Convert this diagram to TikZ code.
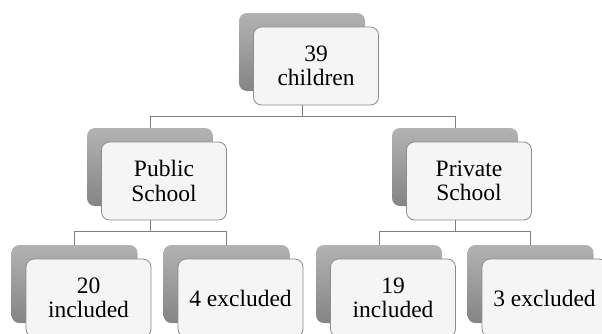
\documentclass[tikz,border=0pt]{standalone}
\usepackage{fontspec}
\setmainfont{Liberation Serif}
\usetikzlibrary{positioning}

\tikzset{
  backbox/.style={rounded corners=8pt, minimum width=126pt, minimum height=78pt,
    inner sep=0pt, top color=black!30, bottom color=black!48},
  frontbox/.style={draw=black!45, line width=0.8pt, fill=black!4, rounded corners=8pt,
    minimum width=125pt, minimum height=78pt, inner sep=0pt, align=center,
    font=\fontsize{23.5}{24.5}\selectfont, xshift=14pt, yshift=-14pt},
  link/.style={draw=black!50, line width=0.9pt}
}

\begin{document}
\begin{tikzpicture}[x=1pt,y=1pt]
  \useasboundingbox (0,0) rectangle (602,-333);

  % shadow boxes
  \node[backbox] (kidsb) at (302,-52) {};
  \node[backbox] (pubb) at (150,-167) {};
  \node[backbox] (privb) at (455,-167) {};
  \node[backbox] (pubinb) at (74.5,-284) {};
  \node[backbox] (pubexb) at (226.5,-284) {};
  \node[backbox] (privinb) at (379,-284) {};
  \node[backbox] (privexb) at (530.5,-284) {};

  % front boxes
  \node[frontbox] (kids) at (kidsb) {39\\children};
  \node[frontbox] (pub) at (pubb) {Public\\School};
  \node[frontbox] (priv) at (privb) {Private\\School};
  \node[frontbox] (pubin) at (pubinb) {20\\included};
  \node[frontbox] (pubex) at (pubexb) {4 excluded};
  \node[frontbox] (privin) at (privinb) {19\\included};
  \node[frontbox] (privex) at (privexb) {3 excluded};

  % connectors
  \draw[link] (kidsb.center |- kids.south) -- ++(0,-11) -| (pubb.north);
  \draw[link] (kidsb.center |- kids.south) -- ++(0,-11) -| (privb.north);
  \draw[link] (pubb.center |- pub.south) -- ++(0,-11) -| (pubinb.north);
  \draw[link] (pubb.center |- pub.south) -- ++(0,-11) -| (pubexb.north);
  \draw[link] (privb.center |- priv.south) -- ++(0,-11) -| (privinb.north);
  \draw[link] (privb.center |- priv.south) -- ++(0,-11) -| (privexb.north);
\end{tikzpicture}
\end{document}
